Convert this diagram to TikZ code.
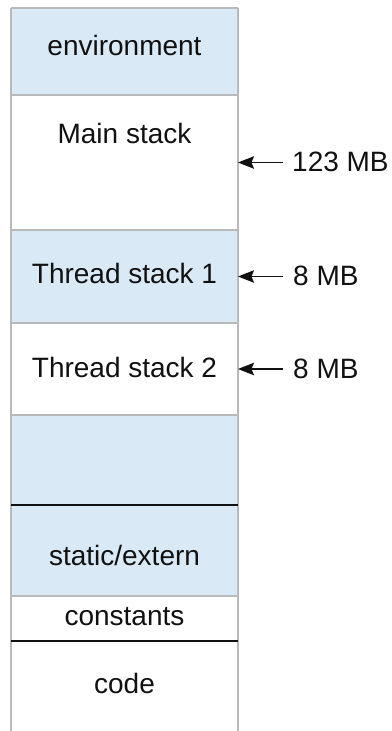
\documentclass[tikz,border=0pt]{standalone}
\usepackage{fontspec}
\setmainfont{Liberation Sans}
\usetikzlibrary{arrows.meta}
\definecolor{segblue}{RGB}{217,234,246}
\definecolor{seggray}{RGB}{185,185,185}
\definecolor{inkc}{RGB}{17,17,17}
\begin{document}
\begin{tikzpicture}[x=1pt,y=-1pt,
  seg/.style={draw=none,inner sep=0pt,outer sep=0pt,minimum width=227pt,anchor=north west},
  segtxt/.style={anchor=base,inner sep=0pt,text=inkc,font=\fontsize{28}{32}\selectfont},
  sizetxt/.style={anchor=base west,inner sep=0pt,text=inkc,font=\fontsize{28}{32}\selectfont},
  grayline/.style={draw=seggray,line width=1.3pt},
  darkline/.style={draw=inkc,line width=1.4pt},
  ptr/.style={draw=inkc,line width=1.5pt,-{Stealth[length=16pt,width=12.5pt,inset=2.5pt]}}]
\useasboundingbox (0,0) rectangle (391,731);
% segments
\node[seg,fill=segblue,minimum height=87pt] (env) at (11,8) {};
\node[seg,fill=white,minimum height=135pt] (main) at (11,95) {};
\node[seg,fill=segblue,minimum height=93pt] (t1) at (11,230) {};
\node[seg,fill=white,minimum height=92pt] (t2) at (11,323) {};
\node[seg,fill=segblue,minimum height=90pt] (free) at (11,415) {};
\node[seg,fill=segblue,minimum height=91pt] (stat) at (11,505) {};
\node[seg,fill=white,minimum height=45pt] (const) at (11,596) {};
\node[seg,fill=white,minimum height=90pt] (code) at (11,641) {};
% borders
\draw[grayline] (env.north west) -- (code.south west);
\draw[grayline] (env.north east) -- (code.south east);
\draw[grayline] (env.north west) -- (env.north east);
\draw[grayline] (env.south west) -- (env.south east);
\draw[grayline] (main.south west) -- (main.south east);
\draw[grayline] (t1.south west) -- (t1.south east);
\draw[grayline] (t2.south west) -- (t2.south east);
\draw[darkline] (free.south west) -- (free.south east);
\draw[grayline] (stat.south west) -- (stat.south east);
\draw[darkline] (const.south west) -- (const.south east);
% texts
\node[segtxt] (tenv) at (124.5,55) {environment};
\node[segtxt] (tmain) at (124.5,143) {Main stack};
\node[segtxt] (tt1) at (124.5,283) {Thread stack 1};
\node[segtxt] (tt2) at (124.5,377) {Thread stack 2};
\node[segtxt] (tstat) at (124.5,565) {static/extern};
\node[segtxt] (tconst) at (124.5,625) {constants};
\node[segtxt] (tcode) at (124.5,693) {code};
% sizes
\node[sizetxt] (s1) at (292,171) {123 MB};
\node[sizetxt] (s2) at (293,285) {8 MB};
\node[sizetxt] (s3) at (293,378) {8 MB};
\draw[ptr] ([xshift=-9pt]main.east -| s1.west) -- (main.east);
\draw[ptr] ([xshift=-10pt]t1.east -| s2.west) -- (t1.east);
\draw[ptr] ([xshift=-10pt]t2.east -| s3.west) -- (t2.east);
\end{tikzpicture}
\end{document}
